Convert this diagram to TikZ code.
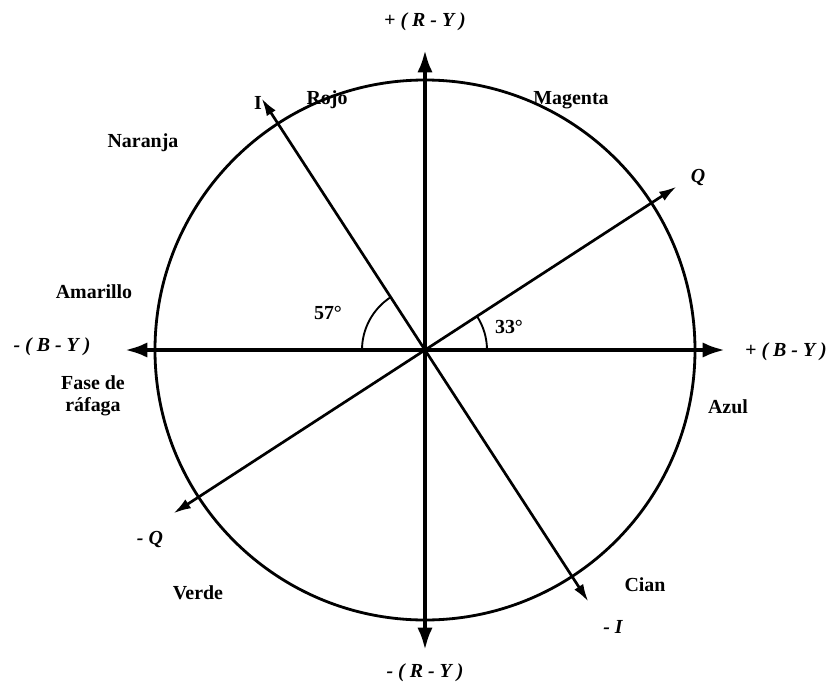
\documentclass[tikz,border=0pt]{standalone}
\usepackage{fontspec}
\setmainfont{Liberation Serif}
\usetikzlibrary{arrows.meta}

\begin{document}
\begin{tikzpicture}[x=0.03cm,y=0.03cm,
  lbl/.style={font=\fontsize{17}{19}\selectfont\bfseries,inner sep=0pt,align=center},
  axlbl/.style={font=\fontsize{17}{19}\selectfont\bfseries\itshape,inner sep=0pt},
  mainaxis/.style={line width=3.4pt,-{Latex[length=19pt,width=13pt]}},
  iqaxis/.style={line width=2.3pt,-{Latex[length=15pt,width=9pt]}}]
\useasboundingbox (-425,-336) rectangle (407,350);
\coordinate (O) at (0,0);
% colour circle
\draw[line width=2.4pt] (O) circle (270);
% R-Y and B-Y axes
\foreach \nm/\ang in {rp/90,rm/270,bp/0,bm/180}
  \draw[mainaxis] (O) -- (\ang:300) coordinate (\nm);
% I and Q axes
\foreach \nm/\ang in {ip/123,im/303,qp/33,qm/213}
  \draw[iqaxis] (O) -- (\ang:300) coordinate (\nm);
% angles
\draw[line width=1.6pt] (-63,0) arc (180:123:63);
\draw[line width=1.6pt] (62,0) arc (0:33:62);
\node[lbl] (a57) at (-97,37) {57°};
\node[lbl] (a33) at (84,23) {33°};
% axis labels
\node[axlbl] (lrp) at (0,328) {+ ( R - Y )};
\node[axlbl] (lrm) at (0,-323) {- ( R - Y )};
\node[axlbl] (lbm) at (-373,3) {- ( B - Y )};
\node[axlbl] (lbp) at (361,-2) {+ ( B - Y )};
\node[lbl] (lip) at (-167,247) {I};
\node[axlbl] (lim) at (188,-277) {- I};
\node[axlbl] (lqp) at (273,172) {Q};
\node[axlbl] (lqm) at (-275,-190) {- Q};
% colour names
\node[lbl] (rojo) at (-98,250) {Rojo};
\node[lbl] (magenta) at (146,250) {Magenta};
\node[lbl] (naranja) at (-282,207) {Naranja};
\node[lbl] (amarillo) at (-331,58) {Amarillo};
\node[lbl] (rafaga) at (-332,-46) {Fase de\\ráfaga};
\node[lbl] (azul) at (303,-57) {Azul};
\node[lbl] (verde) at (-227,-243) {Verde};
\node[lbl] (cian) at (220,-235) {Cian};
\end{tikzpicture}
\end{document}
